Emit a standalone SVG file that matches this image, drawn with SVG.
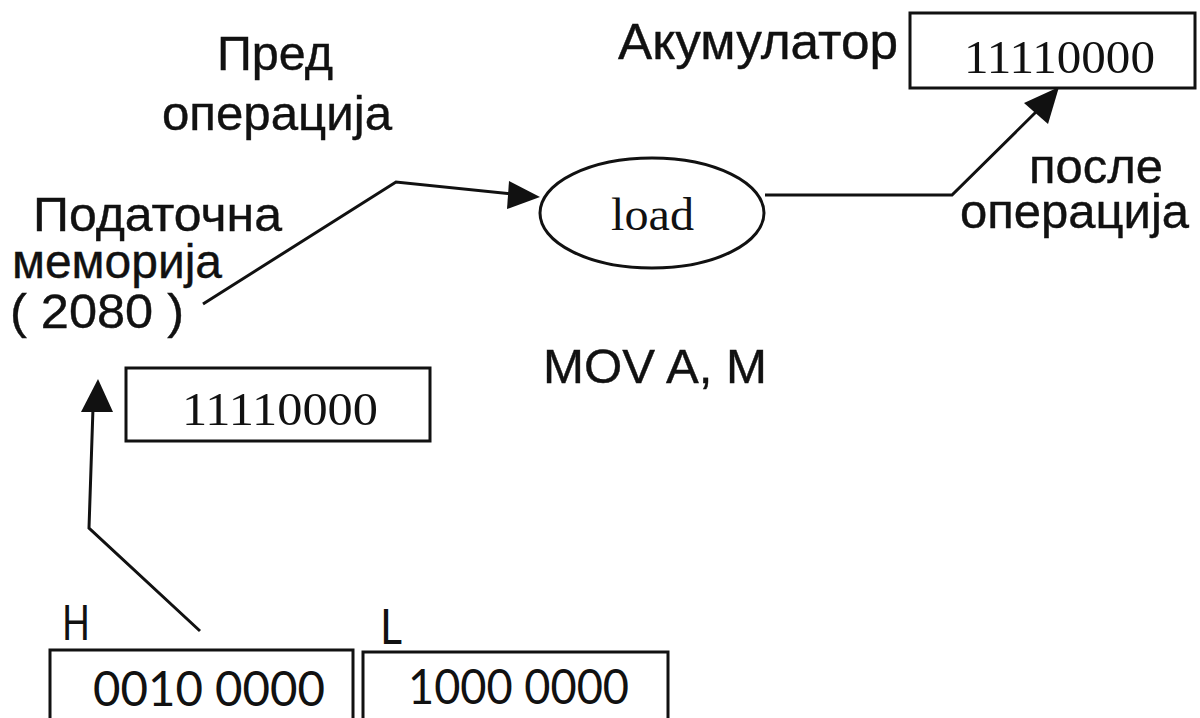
<svg xmlns="http://www.w3.org/2000/svg" width="1200" height="718" viewBox="0 0 1200 718">
<defs>
<style>
.s{font-family:"Liberation Sans",Arial,sans-serif;font-size:48px;fill:#111;stroke:#111;stroke-width:0.4}
.r{font-family:"Liberation Serif","Times New Roman",serif;font-size:47px;fill:#111}
.c{font-family:Lato,"Open Sans",sans-serif;font-size:48px;fill:#111}
.box{fill:none;stroke:#111;stroke-width:3}
.ln{fill:none;stroke:#111;stroke-width:3}
.ah{fill:#111}
</style>
</defs>
<rect width="1200" height="718" fill="#fff"/>
<g id="labels-before">
<text class="s" x="217" y="70" textLength="116" lengthAdjust="spacingAndGlyphs">Пред</text>
<text class="s" x="162" y="130" textLength="230" lengthAdjust="spacingAndGlyphs">операција</text>
</g>
<g id="memory">
<text class="s" x="33" y="231" textLength="249" lengthAdjust="spacingAndGlyphs">Податочна</text>
<text class="s" x="12" y="278" textLength="210" lengthAdjust="spacingAndGlyphs">меморија</text>
<text class="s" x="10" y="328" textLength="174" lengthAdjust="spacingAndGlyphs">( 2080 )</text>
</g>
<g id="load">
<ellipse class="box" cx="652" cy="213" rx="112" ry="55"/>
<text class="r" x="611" y="230" textLength="83" lengthAdjust="spacingAndGlyphs">load</text>
</g>
<g id="accumulator">
<text class="s" x="618" y="59" style="font-size:50px" textLength="280" lengthAdjust="spacingAndGlyphs">Акумулатор</text>
<rect class="box" x="910" y="13" width="285" height="75"/>
<text class="r" x="964" y="73" textLength="191" lengthAdjust="spacingAndGlyphs">11110000</text>
</g>
<g id="after">
<text class="s" x="1029" y="183" textLength="134" lengthAdjust="spacingAndGlyphs">после</text>
<text class="s" x="960" y="228" textLength="229" lengthAdjust="spacingAndGlyphs">операција</text>
</g>
<g id="instruction">
<text class="s" x="543" y="383" textLength="224" lengthAdjust="spacingAndGlyphs">MOV A, M</text>
</g>
<g id="memcell">
<rect class="box" x="126" y="368" width="304" height="73"/>
<text class="r" x="182" y="425" textLength="196" lengthAdjust="spacingAndGlyphs">11110000</text>
</g>
<g id="regH">
<text class="c" x="62" y="640" textLength="28" lengthAdjust="spacingAndGlyphs">H</text>
<rect class="box" x="50" y="650" width="303" height="80"/>
<text class="c" x="93" y="706" textLength="232" lengthAdjust="spacingAndGlyphs">0010 0000</text>
</g>
<g id="regL">
<text class="c" x="380" y="644" textLength="22" lengthAdjust="spacingAndGlyphs">L</text>
<rect class="box" x="363" y="652" width="305" height="80"/>
<text class="c" x="408" y="704" textLength="221" lengthAdjust="spacingAndGlyphs">1000 0000</text>
</g>
<g id="connectors">
<polyline class="ln" points="203,304 396,182 512,194"/>
<path class="ah" d="M509,181 L540,197 L507,209 Z"/>
<polyline class="ln" points="765,195 952,195 1038,110"/>
<path class="ah" d="M1024,103 L1059,87 L1048,124 Z"/>
<polyline class="ln" points="200,631 89,528 93,408"/>
<path class="ah" d="M81,412 L98,379 L113,412 Z"/>
</g>
</svg>
